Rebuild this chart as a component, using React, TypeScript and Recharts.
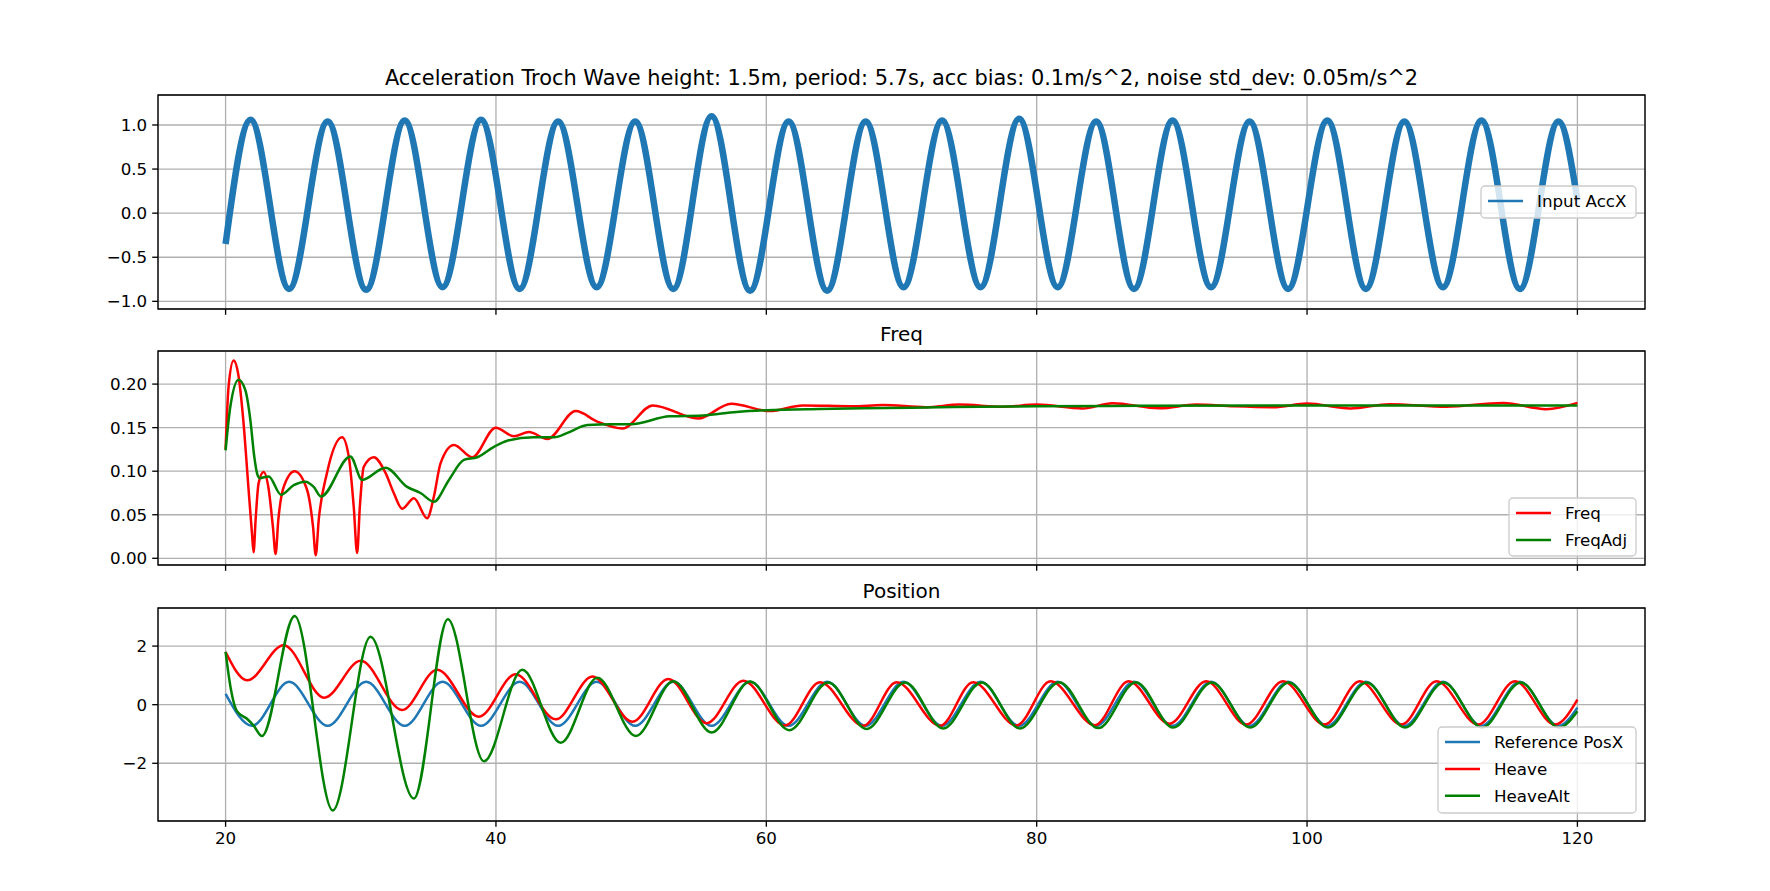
import { CartesianGrid, Line, LineChart, ReferenceArea, XAxis, YAxis } from "recharts";

type Pt = [number, number];

const titleText =
  "Acceleration Troch Wave height: 1.5m, period: 5.7s, acc bias: 0.1m/s^2, noise std_dev: 0.05m/s^2";

const timeTicks = [20, 40, 60, 80, 100, 120];
const accTicks = [-1, -0.5, 0, 0.5, 1];
const freqTicks = [0, 0.05, 0.1, 0.15, 0.2];
const posTicks = [-2, 0, 2];

// [time s, value], crests and troughs mostly
const inputAccX: Pt[] = [
  [20, -0.35], [21.85, 1.06], [24.7, -0.86], [27.55, 1.04], [30.4, -0.87], [33.25, 1.05],
  [36.05, -0.84], [38.9, 1.06], [41.75, -0.86], [44.6, 1.04], [47.45, -0.84], [50.3, 1.04],
  [53.12, -0.86], [55.95, 1.1], [58.8, -0.88], [61.65, 1.04], [64.5, -0.88], [67.35, 1.04],
  [70.15, -0.84], [73.0, 1.05], [75.85, -0.84], [78.7, 1.07], [81.55, -0.84], [84.4, 1.04],
  [87.2, -0.86], [90.05, 1.05], [92.9, -0.84], [95.75, 1.04], [98.6, -0.86], [101.5, 1.05],
  [104.35, -0.86], [107.2, 1.04], [110.05, -0.84], [112.9, 1.05], [115.75, -0.86], [118.6, 1.04],
  [120, 0.15],
];

const freq: Pt[] = [
  [20, 0.125], [20.22, 0.197], [20.59, 0.227], [20.96, 0.209], [21.33, 0.155], [21.7, 0.079],
  [21.95, 0.029], [22.07, 0.007], [22.22, 0.044], [22.44, 0.086], [22.81, 0.099], [23.19, 0.079],
  [23.5, 0.036], [23.7, 0.005], [23.9, 0.044], [24.3, 0.082], [25.1, 0.1], [26.02, 0.079],
  [26.47, 0.036], [26.67, 0.0035], [26.89, 0.044], [27.5, 0.098], [28.62, 0.139], [29.11, 0.117],
  [29.48, 0.059], [29.73, 0.006], [29.93, 0.059], [30.22, 0.105], [30.96, 0.116], [31.83, 0.098],
  [32.44, 0.075], [33.06, 0.057], [33.93, 0.069], [34.91, 0.046], [35.41, 0.071], [35.9, 0.109],
  [36.89, 0.13], [38.25, 0.116], [39.98, 0.15], [41.33, 0.14], [42.44, 0.145], [43.8, 0.137],
  [45.9, 0.169], [47.5, 0.157], [49.36, 0.149], [51.6, 0.1755], [54.95, 0.1605], [57.4, 0.1775],
  [60.25, 0.169], [62.7, 0.1755], [66.4, 0.1745], [68.6, 0.176], [71.8, 0.1735], [74.3, 0.1765],
  [77.5, 0.174], [80, 0.1765], [83.4, 0.172], [85.6, 0.178], [89.1, 0.1723], [91.8, 0.1765],
  [94.6, 0.1745], [97.5, 0.1735], [100, 0.1776], [103.2, 0.172], [106.1, 0.177], [110.3, 0.174],
  [114.5, 0.1784], [117.7, 0.1712], [120, 0.1784],
];

const freqAdj: Pt[] = [
  [20, 0.124], [20.35, 0.174], [20.96, 0.205], [21.46, 0.193], [21.83, 0.159], [22.12, 0.117],
  [22.32, 0.098], [22.52, 0.092], [23.19, 0.094], [24.1, 0.073], [25.04, 0.084], [25.9, 0.088],
  [26.52, 0.082], [27.06, 0.071], [29.23, 0.117], [30.1, 0.09], [31.83, 0.104], [33.43, 0.082],
  [34.42, 0.075], [35.41, 0.065], [36.52, 0.09], [37.63, 0.113], [38.62, 0.116], [39.85, 0.128],
  [40.84, 0.135], [42.81, 0.139], [44.3, 0.139], [45.28, 0.144], [46.77, 0.153], [48.5, 0.154],
  [49.98, 0.154], [52.85, 0.163], [55.3, 0.164], [57.8, 0.168], [60, 0.17], [63.9, 0.1715],
  [68.9, 0.1725], [73.8, 0.1737], [80, 0.1745], [87.6, 0.175], [100, 0.1754], [120, 0.1754],
];

const refPosX: Pt[] = [
  [20, 0.37], [21.95, -0.72], [24.7, 0.78], [27.55, -0.72], [30.4, 0.78], [33.25, -0.72],
  [36.05, 0.78], [38.9, -0.72], [41.75, 0.78], [44.6, -0.72], [47.45, 0.78], [50.3, -0.72],
  [53.12, 0.78], [55.95, -0.72], [58.8, 0.78], [61.65, -0.72], [64.5, 0.78], [67.35, -0.72],
  [70.15, 0.78], [73.0, -0.72], [75.85, 0.78], [78.7, -0.72], [81.55, 0.78], [84.4, -0.72],
  [87.2, 0.78], [90.05, -0.72], [92.9, 0.78], [95.75, -0.72], [98.6, 0.78], [101.5, -0.72],
  [104.35, 0.78], [107.2, -0.72], [110.05, 0.78], [112.9, -0.72], [115.75, 0.78], [118.6, -0.72],
  [120, -0.1],
];

const heave: Pt[] = [
  [20, 1.8], [21.6, 0.83], [24.3, 2.03], [27.3, 0.24], [30.0, 1.5], [33.06, -0.18],
  [35.65, 1.19], [38.74, -0.41], [41.46, 1.04], [44.42, -0.5], [47.14, 0.96], [50.1, -0.58],
  [52.75, 0.88], [55.59, -0.63], [58.3, 0.82], [61.38, -0.71], [63.97, 0.77], [67.17, -0.72],
  [69.64, 0.77], [72.85, -0.72], [75.3, 0.77], [78.5, -0.71], [81.03, 0.8], [84.31, -0.7],
  [86.8, 0.8], [89.83, -0.65], [92.54, 0.8], [95.5, -0.68], [98.22, 0.8], [101.3, -0.68],
  [103.9, 0.8], [106.99, -0.68], [109.58, 0.8], [112.67, -0.68], [115.38, 0.8], [118.35, -0.68],
  [120, 0.17],
];

const heaveAlt: Pt[] = [
  [20, 1.8], [20.35, 0.64], [20.84, -0.22], [21.58, -0.48], [22.07, -0.71], [22.69, -1.07],
  [25.11, 3.03], [27.93, -3.61], [30.72, 2.32], [33.93, -3.2], [36.44, 2.92], [39.11, -1.93],
  [41.95, 1.19], [44.79, -1.3], [47.5, 0.92], [50.35, -1.07], [53.12, 0.8], [55.96, -0.95],
  [58.79, 0.79], [61.7, -0.87], [64.58, 0.76], [67.42, -0.83], [70.26, 0.76], [73.09, -0.81],
  [75.93, 0.76], [78.76, -0.81], [81.67, 0.77], [84.56, -0.8], [87.34, 0.77], [90.1, -0.78],
  [92.95, 0.76], [95.8, -0.78], [98.65, 0.76], [101.55, -0.78], [104.4, 0.76], [107.25, -0.78],
  [110.1, 0.76], [112.95, -0.78], [115.8, 0.76], [118.65, -0.78], [120, -0.22],
];

const FONT = "'DejaVu Sans', Verdana, sans-serif";
const W = 1770;
const H = 891;
const PLOT_LEFT = 158;
const PLOT_RIGHT = 1645;
const AXIS_W = 60;
const X_DOMAIN: [number, number] = [15, 125];

const BLUE = "#1f77b4";
const RED = "#ff0000";
const GREEN = "#008000";

type Series = { name: string; color: string; width: number; points: Pt[] };

const minus = (s: string) => s.replace("-", "\u2212");

type PanelProps = {
  top: number;
  height: number;
  plotTop: number;
  plotBottom: number;
  yDomain: [number, number];
  yTicks: number[];
  fmt: (v: number) => string;
  showTimeLabels: boolean;
  series: Series[];
};

function Panel({ top, height, plotTop, plotBottom, yDomain, yTicks, fmt, showTimeLabels, series }: PanelProps) {
  const tickStyle = { fill: "#000", fontSize: 16.7, fontFamily: FONT };
  return (
    <div style={{ position: "absolute", left: 0, top, width: W, height }}>
      <LineChart
        width={W}
        height={height}
        margin={{
          top: plotTop - top,
          right: W - PLOT_RIGHT,
          bottom: top + height - plotBottom - 30,
          left: PLOT_LEFT - AXIS_W,
        }}
      >
        <CartesianGrid stroke="#b0b0b0" strokeWidth={1.33} />
        <XAxis
          dataKey="t"
          type="number"
          domain={X_DOMAIN}
          ticks={timeTicks}
          interval={0}
          allowDataOverflow
          height={30}
          axisLine={false}
          tickLine={{ stroke: "#000", strokeWidth: 1.33 }}
          tickSize={5.8}
          tickMargin={5}
          tick={tickStyle}
          tickFormatter={(v: number) => (showTimeLabels ? String(v) : "")}
        />
        <YAxis
          type="number"
          domain={yDomain}
          ticks={yTicks}
          interval={0}
          allowDataOverflow
          width={AXIS_W}
          axisLine={false}
          tickLine={{ stroke: "#000", strokeWidth: 1.33 }}
          tickSize={5.8}
          tickMargin={5}
          tick={tickStyle}
          tickFormatter={fmt}
        />
        {series.map((s) => (
          <Line
            key={s.name}
            data={s.points.map(([t, v]) => ({ t, v }))}
            dataKey="v"
            name={s.name}
            type="monotone"
            stroke={s.color}
            strokeWidth={s.width}
            dot={false}
            activeDot={false}
            isAnimationActive={false}
          />
        ))}
        <ReferenceArea
          x1={X_DOMAIN[0]}
          x2={X_DOMAIN[1]}
          y1={yDomain[0]}
          y2={yDomain[1]}
          fill="none"
          stroke="#000"
          strokeWidth={1.33}
          ifOverflow="visible"
        />
      </LineChart>
    </div>
  );
}

type LegendProps = { x: number; y: number; w: number; h: number; rows: Series[] };

function LegendBox({ x, y, w, h, rows }: LegendProps) {
  return (
    <g>
      <rect x={x} y={y} width={w} height={h} rx={4} fill="#fff" fillOpacity={0.8} stroke="#cccccc" strokeWidth={1.33} />
      {rows.map((r, i) => {
        const cy = y + 15 + i * 26.9;
        return (
          <g key={r.name}>
            <line x1={x + 7} x2={x + 42} y1={cy} y2={cy} stroke={r.color} strokeWidth={2.5} />
            <text x={x + 56} y={cy + 6} fontSize={16.7} fontFamily={FONT} fill="#000">
              {r.name}
            </text>
          </g>
        );
      })}
    </g>
  );
}

const accSeries: Series[] = [{ name: "Input AccX", color: BLUE, width: 6.5, points: inputAccX }];
const freqSeries: Series[] = [
  { name: "Freq", color: RED, width: 2.5, points: freq },
  { name: "FreqAdj", color: GREEN, width: 2.5, points: freqAdj },
];
const posSeries: Series[] = [
  { name: "Reference PosX", color: BLUE, width: 2.5, points: refPosX },
  { name: "Heave", color: RED, width: 2.5, points: heave },
  { name: "HeaveAlt", color: GREEN, width: 2.5, points: heaveAlt },
];

export default function App() {
  const cx = (PLOT_LEFT + PLOT_RIGHT) / 2;
  return (
    <div style={{ position: "absolute", left: 0, top: 0, width: W, height: H, background: "#fff", overflow: "hidden" }}>
      <Panel
        top={0}
        height={340}
        plotTop={95}
        plotBottom={309}
        yDomain={[-1.087, 1.34]}
        yTicks={accTicks}
        fmt={(v) => minus(v.toFixed(1))}
        showTimeLabels={false}
        series={accSeries}
      />
      <Panel
        top={320}
        height={280}
        plotTop={351}
        plotBottom={565}
        yDomain={[-0.0077, 0.238]}
        yTicks={freqTicks}
        fmt={(v) => v.toFixed(2)}
        showTimeLabels={false}
        series={freqSeries}
      />
      <Panel
        top={560}
        height={331}
        plotTop={608}
        plotBottom={821}
        yDomain={[-3.97, 3.3]}
        yTicks={posTicks}
        fmt={(v) => minus(String(v))}
        showTimeLabels={true}
        series={posSeries}
      />
      <svg width={W} height={H} style={{ position: "absolute", left: 0, top: 0, pointerEvents: "none" }}>
        <text x={cx} y={85} textAnchor="middle" fontSize={20.9} fontFamily={FONT} fill="#000">
          {titleText}
        </text>
        <text x={cx} y={341} textAnchor="middle" fontSize={20} fontFamily={FONT} fill="#000">
          Freq
        </text>
        <text x={cx} y={598} textAnchor="middle" fontSize={20} fontFamily={FONT} fill="#000">
          Position
        </text>
        <LegendBox x={1481} y={186} w={155} h={32} rows={accSeries} />
        <LegendBox x={1509} y={498} w={127} h={58} rows={freqSeries} />
        <LegendBox x={1438} y={727} w={198} h={86} rows={posSeries} />
      </svg>
    </div>
  );
}
